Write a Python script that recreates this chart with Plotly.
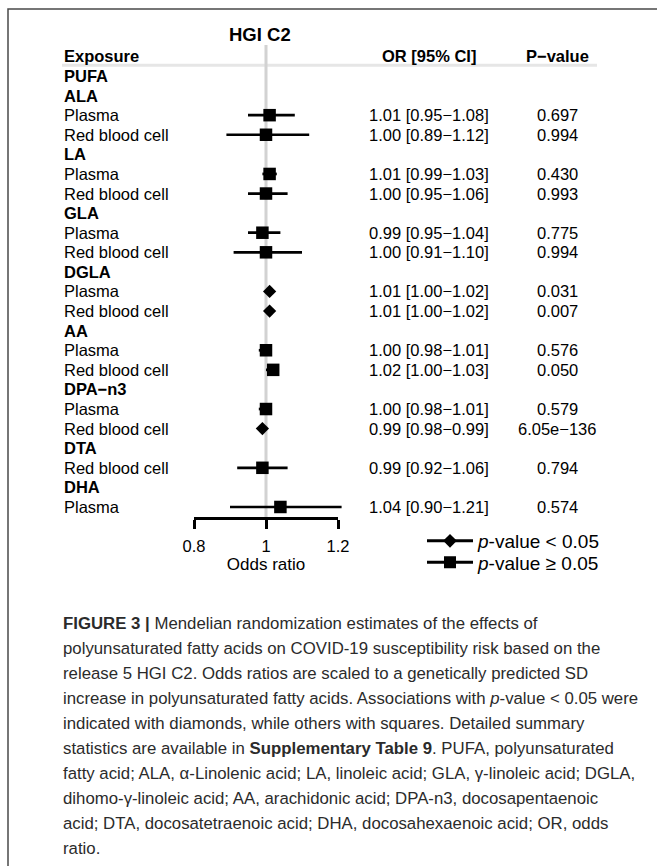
import plotly.graph_objects as go

W, H = 657, 866
FONT = "Liberation Sans, Arial, Helvetica, sans-serif"

# ---------------- data ----------------
title_text = "HGI C2"
header_labels = ["Exposure", "OR [95% CI]", "P−value"]
family_label = "PUFA"
groups = ["ALA", "ALA", "LA", "LA", "GLA", "GLA", "DGLA", "DGLA",
          "AA", "AA", "DPA−n3", "DPA−n3", "DTA", "DHA"]
tissues = ["Plasma", "Red blood cell", "Plasma", "Red blood cell",
           "Plasma", "Red blood cell", "Plasma", "Red blood cell",
           "Plasma", "Red blood cell", "Plasma", "Red blood cell",
           "Red blood cell", "Plasma"]
odds_ratio = [1.01, 1.00, 1.01, 1.00, 0.99, 1.00, 1.01, 1.01,
              1.00, 1.02, 1.00, 0.99, 0.99, 1.04]
ci_low = [0.95, 0.89, 0.99, 0.95, 0.95, 0.91, 1.00, 1.00,
          0.98, 1.00, 0.98, 0.98, 0.92, 0.90]
ci_high = [1.08, 1.12, 1.03, 1.06, 1.04, 1.10, 1.02, 1.02,
           1.01, 1.03, 1.01, 0.99, 1.06, 1.21]
p_values = [0.697, 0.994, 0.430, 0.993, 0.775, 0.994, 0.031, 0.007,
            0.576, 0.0503, 0.579, 6.05e-136, 0.794, 0.574]
p_value_text = ["0.697", "0.994", "0.430", "0.993", "0.775", "0.994", "0.031",
                "0.007", "0.576", "0.050", "0.579", "6.05e−136", "0.794", "0.574"]
x_ticks = [0.8, 1.0, 1.2]
x_tick_labels = ["0.8", "1", "1.2"]
x_title = "Odds ratio"
reference_or = 1.0
sig_threshold = 0.05
legend_names = ["<i>p</i>-value &lt; 0.05", "<i>p</i>-value ≥ 0.05"]
caption_lines = [
    "<b>FIGURE 3 |</b> Mendelian randomization estimates of the effects of",
    "polyunsaturated fatty acids on COVID-19 susceptibility risk based on the",
    "release 5 HGI C2. Odds ratios are scaled to a genetically predicted SD",
    "increase in polyunsaturated fatty acids. Associations with <i>p</i>-value &lt; 0.05 were",
    "indicated with diamonds, while others with squares. Detailed summary",
    "statistics are available in <b>Supplementary Table 9</b>. PUFA, polyunsaturated",
    "fatty acid; ALA, α-Linolenic acid; LA, linoleic acid; GLA, γ-linoleic acid; DGLA,",
    "dihomo-γ-linoleic acid; AA, arachidonic acid; DPA-n3, docosapentaenoic",
    "acid; DTA, docosatetraenoic acid; DHA, docosahexaenoic acid; OR, odds",
    "ratio.",
]

# ---------------- row layout ----------------
rows = [(family_label, True)]
est_rows = []
prev = None
for g, t in zip(groups, tissues):
    if g != prev:
        rows.append((g, True))
        prev = g
    rows.append((t, False))
    est_rows.append(len(rows) - 1)


def px_x(px):
    return px / W


def px_y(py):
    return (H - py) / H


# y axis: rows (reversed), domain in pixels 45..517
y_top_px, y_bot_px = 45, 517
row0_px, row_step = 76, 19.59
y_range_top = -(row0_px - y_top_px) / row_step
y_range_bot = y_range_top + (y_bot_px - y_top_px) / row_step

# x scale: 1.0 at 266 px, 360 px per unit
x_one_px, x_scale = 266, 360.0
data_lo, data_hi = 0.7, 1.3
axis_lo, axis_hi = x_ticks[0], x_ticks[-1]

fig = go.Figure()

# invisible trace so that the visible odds-ratio axis (x2) exists
fig.add_trace(go.Scatter(x=[reference_or], y=[y_range_bot], xaxis="x2", yaxis="y",
                         mode="markers", marker=dict(opacity=0),
                         showlegend=False, hoverinfo="skip"))

# CI lines
cx, cy = [], []
for r, lo, hi in zip(est_rows, ci_low, ci_high):
    cx += [lo, hi, None]
    cy += [r, r, None]
fig.add_trace(go.Scatter(
    x=cx, y=cy, mode="lines", line=dict(color="black", width=2.7),
    showlegend=False, hoverinfo="skip", cliponaxis=False))

sig_idx = [i for i, p in enumerate(p_values) if p < sig_threshold]
ns_idx = [i for i, p in enumerate(p_values) if p >= sig_threshold]

fig.add_trace(go.Scatter(
    x=[odds_ratio[i] for i in sig_idx], y=[est_rows[i] for i in sig_idx],
    mode="markers", marker=dict(symbol="diamond", size=10.2, color="black",
                                line=dict(width=0)),
    showlegend=False, cliponaxis=False))
fig.add_trace(go.Scatter(
    x=[odds_ratio[i] for i in ns_idx], y=[est_rows[i] for i in ns_idx],
    mode="markers", marker=dict(symbol="square", size=12.5, color="black",
                                line=dict(width=0)),
    showlegend=False, cliponaxis=False))

# legend entries
fig.add_trace(go.Scatter(
    x=[None], y=[None], mode="lines+markers", name=legend_names[0],
    line=dict(color="black", width=3),
    marker=dict(symbol="diamond", size=10.5, color="black", line=dict(width=0)),
    legend="legend"))
fig.add_trace(go.Scatter(
    x=[None], y=[None], mode="lines+markers", name=legend_names[1],
    line=dict(color="black", width=3),
    marker=dict(symbol="square", size=12, color="black", line=dict(width=0)),
    legend="legend2"))

annotations = []
# title
annotations.append(dict(text="<b>%s</b>" % title_text, x=px_x(260), y=px_y(34),
                        xref="paper", yref="paper", showarrow=False,
                        xanchor="center", yanchor="middle",
                        font=dict(family=FONT, size=18.5, color="black")))
# headers
hdr_x = [(62, "left"), (429, "center"), (557, "center")]
for lab, (hx, anc) in zip(header_labels, hdr_x):
    annotations.append(dict(text="<b>%s</b>" % lab, x=px_x(hx), y=-1,
                            xref="paper", yref="y", showarrow=False,
                            xanchor=anc, yanchor="middle",
                            font=dict(family=FONT, size=16.5, color="black")))
# row labels
for i, (lab, bold) in enumerate(rows):
    annotations.append(dict(text=("<b>%s</b>" % lab) if bold else lab,
                            x=px_x(62), y=i, xref="paper", yref="y",
                            showarrow=False, xanchor="left", yanchor="middle",
                            font=dict(family=FONT, size=16.5, color="black")))
# OR text and p-values
for r, o, lo, hi, pt in zip(est_rows, odds_ratio, ci_low, ci_high, p_value_text):
    annotations.append(dict(text="%.2f [%.2f−%.2f]" % (o, lo, hi),
                            x=px_x(429), y=r, xref="paper", yref="y",
                            showarrow=False, xanchor="center", yanchor="middle",
                            font=dict(family=FONT, size=16.5, color="black")))
    annotations.append(dict(text=pt, x=px_x(557), y=r, xref="paper", yref="y",
                            showarrow=False, xanchor="center", yanchor="middle",
                            font=dict(family=FONT, size=16.5, color="black")))
# caption
for k, line in enumerate(caption_lines):
    annotations.append(dict(text=line, x=px_x(61), y=px_y(623 + 25.05 * k),
                            xref="paper", yref="paper", showarrow=False,
                            xanchor="left", yanchor="middle",
                            font=dict(family=FONT, size=16.8, color="#2b2b2b")))

shapes = [
    # frame
    dict(type="rect", xref="paper", yref="paper",
         x0=px_x(8), x1=px_x(700), y0=px_y(9), y1=px_y(900),
         line=dict(color="#4a4a4a", width=1.5), layer="below"),
    # header rule
    dict(type="line", xref="paper", yref="y",
         x0=px_x(62), x1=px_x(597), y0=-0.55, y1=-0.55,
         line=dict(color="#e6e6e6", width=3), layer="below"),
    # reference line at OR = 1
    dict(type="line", xref="x", yref="y domain",
         x0=reference_or, x1=reference_or, y0=0, y1=1,
         line=dict(color="#d2d2d2", width=3), layer="below"),
]

fig.update_layout(
    width=W, height=H,
    margin=dict(l=0, r=0, t=0, b=0, pad=0, autoexpand=False),
    paper_bgcolor="white", plot_bgcolor="rgba(0,0,0,0)",
    showlegend=True,
    xaxis=dict(domain=[px_x(x_one_px + (data_lo - 1) * x_scale),
                       px_x(x_one_px + (data_hi - 1) * x_scale)],
               range=[data_lo, data_hi], visible=False, anchor="y"),
    xaxis2=dict(domain=[px_x(x_one_px + (axis_lo - 1) * x_scale),
                        px_x(x_one_px + (axis_hi - 1) * x_scale)],
                range=[axis_lo, axis_hi], anchor="y",
                showline=True, linecolor="black", linewidth=2.6,
                ticks="outside", ticklen=9, tickwidth=2.6, tickcolor="black",
                tickvals=x_ticks, ticktext=x_tick_labels,
                tickfont=dict(family=FONT, size=16.5, color="black"),
                ticklabelstandoff=3,
                showgrid=False, zeroline=False,
                title=dict(text=x_title, standoff=3,
                           font=dict(family=FONT, size=17, color="black"))),
    yaxis=dict(domain=[px_y(y_bot_px), px_y(y_top_px)],
               range=[y_range_bot, y_range_top], visible=False),
    legend=dict(x=px_x(422), y=px_y(541), xanchor="left", yanchor="middle",
                itemwidth=46, bgcolor="rgba(0,0,0,0)", borderwidth=0,
                font=dict(family=FONT, size=19, color="black")),
    legend2=dict(x=px_x(422), y=px_y(562.5), xanchor="left", yanchor="middle",
                 itemwidth=46, bgcolor="rgba(0,0,0,0)", borderwidth=0,
                 font=dict(family=FONT, size=19, color="black")),
    annotations=annotations,
    shapes=shapes,
)

fig.write_html("out.html", config={"displayModeBar": False},
               post_script="document.body.style.margin='0';document.body.style.padding='0';")
